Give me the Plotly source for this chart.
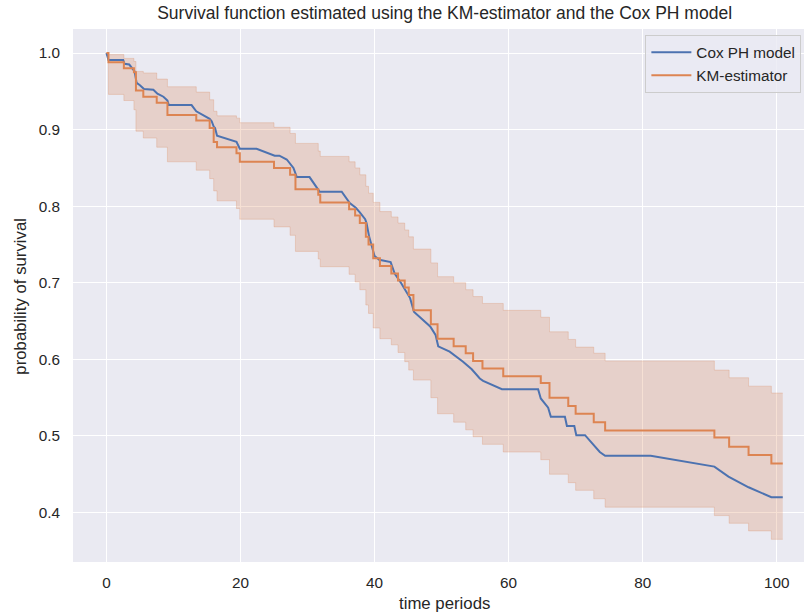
import plotly.graph_objects as go

# ---- data ----
km_times = [0, 0.3, 2.6, 4.1, 4.4, 5.5, 7.5, 9.1, 13.4, 15.4, 16.0, 16.5, 19.4, 19.9, 25.0, 27.4,
            28.2, 31.6, 31.9, 36.2, 37.1, 37.8, 38.7, 39.1, 39.8, 40.8, 42.5, 43.5, 44.5, 45.1,
            45.8, 48.4, 49.4, 51.8, 53.6, 54.7, 56.1, 59.2, 64.8, 66.1, 68.9, 70.0, 72.7, 74.4,
            90.7, 92.9, 95.8, 99.2, 100.9]
km_surv = [1.0, 0.988, 0.980, 0.975, 0.951, 0.943, 0.935, 0.919, 0.912, 0.902, 0.884, 0.877, 0.869,
           0.858, 0.850, 0.841, 0.822, 0.815, 0.805, 0.796, 0.788, 0.778, 0.760, 0.750, 0.732, 0.722,
           0.712, 0.703, 0.694, 0.684, 0.664, 0.646, 0.627, 0.617, 0.608, 0.598, 0.588, 0.578, 0.569,
           0.550, 0.539, 0.529, 0.518, 0.507, 0.498, 0.486, 0.475, 0.464, 0.464]
km_upper = [1.0, 0.998, 0.993, 0.989, 0.976, 0.974, 0.966, 0.956, 0.949, 0.939, 0.924, 0.918, 0.915,
            0.909, 0.903, 0.895, 0.882, 0.872, 0.865, 0.858, 0.850, 0.841, 0.826, 0.817, 0.805, 0.793,
            0.786, 0.778, 0.769, 0.760, 0.744, 0.726, 0.708, 0.700, 0.691, 0.682, 0.673, 0.664, 0.655,
            0.636, 0.626, 0.616, 0.608, 0.598, 0.586, 0.576, 0.565, 0.556, 0.556]
km_lower = [1.0, 0.946, 0.938, 0.926, 0.898, 0.889, 0.877, 0.858, 0.847, 0.836, 0.820, 0.807, 0.797,
            0.783, 0.773, 0.762, 0.741, 0.731, 0.721, 0.711, 0.701, 0.691, 0.671, 0.660, 0.641, 0.627,
            0.619, 0.609, 0.597, 0.586, 0.573, 0.550, 0.529, 0.518, 0.508, 0.499, 0.489, 0.479, 0.469,
            0.450, 0.439, 0.429, 0.418, 0.407, 0.396, 0.386, 0.376, 0.365, 0.365]

cox_times = [0, 0.3, 2.5, 2.7, 3.4, 4.2, 4.5, 5.0, 5.6, 7.0, 7.6, 8.5, 9.1, 9.3, 12.7, 13.4, 15.4,
             15.7, 16.0, 16.2, 16.5, 19.4, 19.9, 22.4, 25.1, 25.8, 26.9, 27.9, 28.4, 30.3, 31.8,
             35.1, 36.3, 37.2, 37.8, 38.6, 38.8, 39.2, 40.0, 40.7, 42.4, 43.0, 44.0, 45.3, 45.9,
             48.3, 49.1, 49.5, 51.2, 53.2, 54.5, 55.7, 56.2, 59.0, 64.4, 64.8, 65.9, 66.3, 68.4,
             68.7, 69.8, 70.1, 71.4, 73.6, 74.4, 81.2, 90.7, 92.8, 95.8, 99.2, 100.9]
cox_surv = [1.0, 0.991, 0.991, 0.986, 0.985, 0.976, 0.961, 0.958, 0.953, 0.952, 0.947, 0.943, 0.938,
            0.932, 0.932, 0.924, 0.914, 0.911, 0.904, 0.902, 0.892, 0.884, 0.875, 0.875, 0.866,
            0.866, 0.861, 0.850, 0.838, 0.838, 0.819, 0.819, 0.804, 0.798, 0.792, 0.783, 0.778,
            0.760, 0.735, 0.730, 0.727, 0.712, 0.699, 0.680, 0.662, 0.643, 0.632, 0.617, 0.610,
            0.597, 0.587, 0.575, 0.572, 0.561, 0.561, 0.549, 0.537, 0.525, 0.525, 0.513, 0.513,
            0.501, 0.501, 0.479, 0.474, 0.474, 0.460, 0.447, 0.433, 0.420, 0.420]

x_ticks = [0, 20, 40, 60, 80, 100]
y_ticks = [0.4, 0.5, 0.6, 0.7, 0.8, 0.9, 1.0]

BLUE = "#4C72B0"
ORANGE = "#DD8452"
FILL = "rgba(221,132,82,0.25)"
TXT = "#262626"
FONT = "Liberation Sans, Arial, sans-serif"
TICK_SIZE = 15.3
LABEL_SIZE = 16.8
TITLE_SIZE = 17.5

fig = go.Figure()
fig.add_trace(go.Scatter(x=km_times, y=km_lower, mode="lines", line=dict(color=FILL, width=1, shape="hv"),
                         showlegend=False, hoverinfo="skip"))
fig.add_trace(go.Scatter(x=km_times, y=km_upper, mode="lines", line=dict(color=FILL, width=1, shape="hv"),
                         fill="tonexty", fillcolor=FILL, showlegend=False, hoverinfo="skip"))
fig.add_trace(go.Scatter(x=cox_times, y=cox_surv, mode="lines", name="Cox PH model",
                         line=dict(color=BLUE, width=2)))
fig.add_trace(go.Scatter(x=km_times, y=km_surv, mode="lines", name="KM-estimator",
                         line=dict(color=ORANGE, width=2, shape="hv")))

fig.update_layout(
    width=804, height=615,
    margin=dict(l=73, r=0, t=29, b=53),
    plot_bgcolor="#EAEAF2", paper_bgcolor="white",
    font=dict(family=FONT, size=TICK_SIZE, color=TXT),
    showlegend=True,
    legend=dict(x=0.783, y=0.989, xanchor="left", yanchor="top", traceorder="normal",
                itemwidth=40,
                bgcolor="rgba(234,234,242,0.8)", bordercolor="#CCCCCC", borderwidth=1,
                font=dict(size=TICK_SIZE, color=TXT), tracegroupgap=0),
    title=dict(text="Survival function estimated using the KM-estimator and the Cox PH model",
               x=0.553, xref="container", xanchor="center", y=1 - 13 / 615, yref="container",
               yanchor="middle", font=dict(size=TITLE_SIZE, color=TXT, family=FONT)),
)
fig.update_xaxes(range=[-4.99, 104.07], tickvals=x_ticks, showgrid=True, gridcolor="white", gridwidth=1.3,
                 zeroline=False, showline=False, ticks="", ticklabelstandoff=10,
                 tickfont=dict(size=TICK_SIZE, color=TXT))
fig.update_yaxes(range=[0.3354, 1.0314], tickvals=y_ticks, tickformat=".1f", showgrid=True,
                 gridcolor="white", gridwidth=1.3, zeroline=False, showline=False, ticks="",
                 ticklabelstandoff=12, tickfont=dict(size=TICK_SIZE, color=TXT))

fig.add_annotation(text="time periods", xref="paper", yref="paper", x=0.508, y=1 - (603 - 29.3) / 532.4,
                   xanchor="center", yanchor="middle", showarrow=False,
                   font=dict(size=LABEL_SIZE, color=TXT))
fig.add_annotation(text="probability of survival", xref="paper", yref="paper",
                   x=(20 - 73.3) / 730.7, y=1 - (296 - 29.3) / 532.4, textangle=-90,
                   xanchor="center", yanchor="middle", showarrow=False,
                   font=dict(size=LABEL_SIZE, color=TXT))

fig.write_html("out.html")
